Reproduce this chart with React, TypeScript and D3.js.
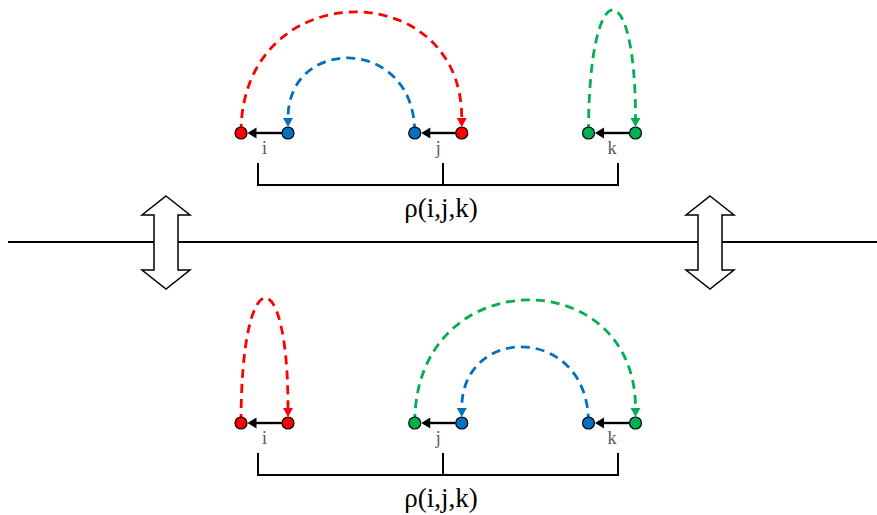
import React from "react";
import * as d3 from "d3";

// ---- data ----
const groups = ["i", "j", "k"];
const rows = ["top", "bottom"];
const sides = ["L", "R"];
// node colours per row, ordered i-L, i-R, j-L, j-R, k-L, k-R
const topNodeColors = ["red", "blue", "blue", "red", "green", "green"];
const bottomNodeColors = ["red", "red", "green", "blue", "blue", "green"];
// arcs: [from node index, to node index, colour, peak height above the nodes]
const topArcs: [number, number, string, number][] = [
  [0, 3, "red", 121],
  [2, 1, "blue", 75],
  [4, 5, "green", 123],
];
const bottomArcs: [number, number, string, number][] = [
  [0, 1, "red", 125],
  [2, 5, "green", 123],
  [4, 3, "blue", 76],
];
const bracketLabel = "ρ(i,j,k)";
const swapArrowPositions = [166, 710];

const palette: Record<string, string> = {
  red: "#ff0000",
  blue: "#0070c0",
  green: "#00b050",
};

const W = 877;
const H = 515;

export default function App() {
  const xGroup = d3.scalePoint<string>().domain(groups).range([264.5, 612]);
  const xSide = d3.scalePoint<string>().domain(sides).range([-23.5, 23.5]);
  const yRow = d3.scalePoint<string>().domain(rows).range([133, 423]);
  const nodeX = (idx: number) =>
    (xGroup(groups[Math.floor(idx / 2)]) as number) + (xSide(sides[idx % 2]) as number);

  const r = 6;

  const renderRow = (row: string, colors: string[], arcs: [number, number, string, number][]) => {
    const y = yRow(row) as number;
    const arcEls = arcs.map(([a, b, c, h], k) => {
      const x0 = nodeX(a);
      const x1 = nodeX(b);
      const yStart = y;
      const yEnd = y - r - 9;
      const peak = y - h;
      const yc = (peak - 0.25 * ((yStart + yEnd) / 2)) / 0.75;
      const p = d3.path();
      p.moveTo(x0, yStart);
      p.bezierCurveTo(x0, yc, x1, yc, x1, yEnd);
      const tip = y - r;
      const head = `M${x1 - 5},${yEnd} L${x1 + 5},${yEnd} L${x1},${tip} Z`;
      return (
        <g key={"arc" + k}>
          <path d={p.toString()} fill="none" stroke={palette[c]} strokeWidth={2.8} strokeDasharray="9,6" />
          <path d={head} fill={palette[c]} stroke="none" />
        </g>
      );
    });
    const pairEls = groups.map((g, gi) => {
      const xl = nodeX(gi * 2);
      const xr = nodeX(gi * 2 + 1);
      const tipX = xl + r + 0.5;
      const baseX = tipX + 9;
      return (
        <g key={"pair" + g}>
          <line x1={baseX - 1} y1={y} x2={xr - r} y2={y} stroke="#000" strokeWidth={2.4} />
          <path d={`M${tipX},${y} L${baseX},${y - 5.5} L${baseX},${y + 5.5} Z`} fill="#000" />
          <text
            x={xGroup(g) as number}
            y={y + 21}
            textAnchor="middle"
            fontFamily="'Liberation Serif', 'Times New Roman', serif"
            fontSize={18}
            fill="#595959"
          >
            {g}
          </text>
        </g>
      );
    });
    const nodeEls = colors.map((c, idx) => (
      <circle key={"n" + idx} cx={nodeX(idx)} cy={y} r={r} fill={palette[c]} stroke="#000" strokeWidth={1.2} />
    ));
    const bx0 = 258;
    const bx1 = 618;
    const bxm = 443;
    const by = y + 52;
    const byTop = y + 30;
    return (
      <g key={row}>
        {arcEls}
        {pairEls}
        {nodeEls}
        <path
          d={`M${bx0},${byTop} L${bx0},${by} L${bx1},${by} L${bx1},${byTop} M${bxm},${by} L${bxm},${byTop}`}
          fill="none"
          stroke="#000"
          strokeWidth={2}
        />
        <text
          x={441}
          y={y + 84}
          textAnchor="middle"
          fontFamily="'Liberation Serif', 'Times New Roman', serif"
          fontSize={27}
          fill="#000"
        >
          {bracketLabel}
        </text>
      </g>
    );
  };

  const midY = 242;
  const swapArrow = (cx: number, k: number) => {
    const tipT = 196;
    const headT = 215;
    const headB = 270;
    const tipB = 289;
    const hw = 24;
    const sw = 12;
    const d = `M${cx},${tipT} L${cx + hw},${headT} L${cx + sw},${headT} L${cx + sw},${headB} L${cx + hw},${headB} L${cx},${tipB} L${cx - hw},${headB} L${cx - sw},${headB} L${cx - sw},${headT} L${cx - hw},${headT} Z`;
    return <path key={"sw" + k} d={d} fill="#fff" stroke="#000" strokeWidth={1.5} strokeLinejoin="miter" />;
  };

  return (
    <svg
      width={W}
      height={H}
      viewBox={`0 0 ${W} ${H}`}
      style={{ position: "absolute", left: 0, top: 0, background: "#fff" }}
    >
      <rect x={0} y={0} width={W} height={H} fill="#fff" />
      <line x1={8} y1={midY} x2={877} y2={midY} stroke="#000" strokeWidth={2} />
      {swapArrowPositions.map((cx, k) => swapArrow(cx, k))}
      {renderRow("top", topNodeColors, topArcs)}
      {renderRow("bottom", bottomNodeColors, bottomArcs)}
    </svg>
  );
}
